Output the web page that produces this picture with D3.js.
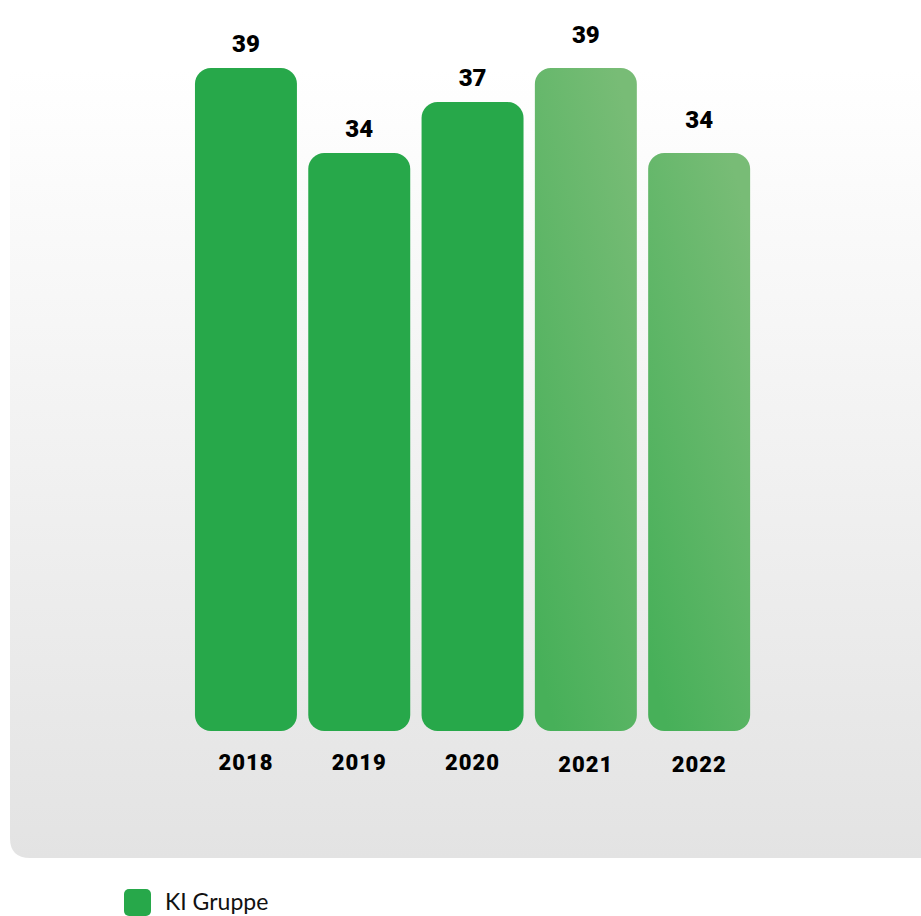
<!DOCTYPE html>
<html>
<head>
<meta charset="utf-8">
<script src="https://cdn.jsdelivr.net/npm/d3@7"></script>
<style>
    html, body { margin: 0; padding: 0; background: #ffffff; }
    svg { display: block; }
</style>
</head>
<body>
<div id="chart"></div>
<script>
// Chart data
const years = ["2018", "2019", "2020", "2021", "2022"];
const values = [39, 34, 37, 39, 34];
// the last two bars are drawn lighter (separate series in the original)
const kinds = ["past", "past", "past", "recent", "recent"];
const legendLabels = ["KI Gruppe"];

// Specify the chart's dimensions.
const width = 921;
const height = 916;
const baseline = 731;

const svg = d3.select("#chart").append("svg")
    .attr("width", width)
    .attr("height", height)
    .attr("viewBox", [0, 0, width, height]);

const defs = svg.append("defs");

// Background panel gradient
const bg = defs.append("linearGradient")
    .attr("id", "panel-grad")
    .attr("x1", 0).attr("y1", 0).attr("x2", 0).attr("y2", 1);
bg.append("stop").attr("offset", "0%").attr("stop-color", "#ffffff");
bg.append("stop").attr("offset", "100%").attr("stop-color", "#e3e3e3");

// Lighter bars gradient
const lg = defs.append("linearGradient")
    .attr("id", "recent-grad")
    .attr("x1", 0.8).attr("y1", 0).attr("x2", 0.2).attr("y2", 1);
lg.append("stop").attr("offset", "0%").attr("stop-color", "#78bc76");
lg.append("stop").attr("offset", "100%").attr("stop-color", "#47b059");

// Panel with a rounded bottom-left corner, running off the right edge
const px = 10, py = 70, pb = 858, r = 20;
svg.append("path")
    .attr("d", `M${px},${py} H${width + 20} V${pb} H${px + r} Q${px},${pb} ${px},${pb - r} Z`)
    .attr("fill", "url(#panel-grad)");

// Scales
const x = d3.scaleBand()
    .domain(years)
    .range([189.3, 755.8])
    .paddingInner(0.1)
    .paddingOuter(0.05);

const y = d3.scaleLinear()
    .domain([0, 39])
    .range([baseline, 68]);

const fill = d => d.kind === "recent" ? "url(#recent-grad)" : "#27a84a";

const data = years.map((year, i) => ({year, value: values[i], kind: kinds[i]}));

// Bars
svg.append("g")
    .selectAll("rect")
    .data(data)
    .join("rect")
    .attr("x", d => x(d.year))
    .attr("y", d => y(d.value))
    .attr("width", x.bandwidth())
    .attr("height", d => baseline - y(d.value))
    .attr("rx", 16)
    .attr("fill", fill);

// Value labels
svg.append("g")
    .selectAll("text")
    .data(data)
    .join("text")
    .attr("x", d => x(d.year) + x.bandwidth() / 2)
    .attr("y", d => y(d.value) - (d.kind === "recent" ? 25 : 16))
    .attr("text-anchor", "middle")
    .attr("font-family", "Roboto, sans-serif")
    .attr("font-weight", 900)
    .attr("font-size", 24)
    .attr("fill", "#000")
    .text(d => d.value);

// Year labels
svg.append("g")
    .selectAll("text")
    .data(data)
    .join("text")
    .attr("x", d => x(d.year) + x.bandwidth() / 2)
    .attr("y", d => d.kind === "recent" ? 772 : 770)
    .attr("text-anchor", "middle")
    .attr("font-family", "Roboto, sans-serif")
    .attr("font-weight", 900)
    .attr("font-size", 22)
    .attr("letter-spacing", 1)
    .attr("fill", "#000")
    .text(d => d.year);

// Legend
const legend = svg.append("g").attr("transform", "translate(124,889)");
legendLabels.forEach((label, i) => {
    legend.append("rect")
        .attr("width", 27)
        .attr("height", 27)
        .attr("rx", 5)
        .attr("fill", "#27a84a");
    legend.append("text")
        .attr("x", 41)
        .attr("y", 21)
        .attr("font-family", "Lato, sans-serif")
        .attr("font-size", 23)
        .attr("fill", "#111")
        .text(label);
});
</script>
</body>
</html>
